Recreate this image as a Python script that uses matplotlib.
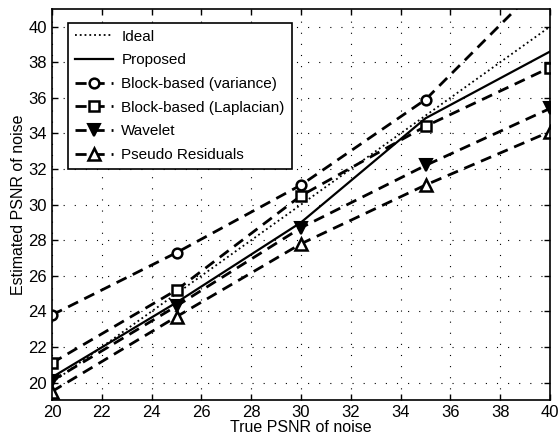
import numpy as np
import matplotlib.pyplot as plt

plt.rcParams['font.family'] = ['Liberation Sans', 'DejaVu Sans']

# true PSNR of noise
x = [20, 25, 30, 35, 40]

ideal = [20, 25, 30, 35, 40]
proposed = [20.3, 24.5, 29.0, 34.85, 38.6]
blk_var = [23.8, 27.3, 31.1, 35.9, 42.9]
blk_lap = [21.1, 25.2, 30.5, 34.4, 37.7]
wavelet = [20.1, 24.3, 28.7, 32.2, 35.4]
pseudo = [19.5, 23.7, 27.8, 31.1, 34.1]

fig = plt.figure(figsize=(5.59, 4.4), dpi=100)
ax = fig.add_axes([0.093, 0.09, 0.891, 0.89])

ax.plot(x, ideal, ':', color='k', lw=1.3, label='Ideal')
ax.plot(x, proposed, '-', color='k', lw=1.6, label='Proposed')
dash = (0, (4, 2.5))
ax.plot(x, blk_var, linestyle=dash, color='k', lw=2.0, marker='o', ms=7,
        mfc='white', mec='k', mew=1.8, label='Block-based (variance)')
ax.plot(x, blk_lap, linestyle=dash, color='k', lw=2.0, marker='s', ms=7,
        mfc='white', mec='k', mew=1.8, label='Block-based (Laplacian)')
ax.plot(x, wavelet, linestyle=dash, color='k', lw=2.0, marker='v', ms=9,
        mfc='k', mec='k', mew=1.5, label='Wavelet')
ax.plot(x, pseudo, linestyle=dash, color='k', lw=2.0, marker='^', ms=9,
        mfc='white', mec='k', mew=1.8, label='Pseudo Residuals')

ax.set_xlim(20, 40)
ax.set_ylim(19, 41)
ax.set_xticks(np.arange(20, 41, 2))
ax.set_yticks(np.arange(20, 41, 2))
ax.tick_params(direction='in', labelsize=12, length=4, width=1,
               top=True, right=True)
ax.grid(True, linestyle=(0, (1, 9)), color='k', lw=0.8)
for s in ax.spines.values():
    s.set_linewidth(1.2)

ax.set_xlabel('True PSNR of noise', fontsize=11.5, labelpad=0)
ax.set_ylabel('Estimated PSNR of noise', fontsize=11.5, labelpad=2)

leg = ax.legend(loc='upper left', fontsize=11, frameon=True, fancybox=False,
                edgecolor='k', framealpha=1, borderpad=0.45, labelspacing=0.63,
                handlelength=2.5, handletextpad=0.55, borderaxespad=0,
                bbox_to_anchor=(0.032, 0.964))
leg.get_frame().set_linewidth(1.2)

fig.savefig('out.png', dpi=100)
